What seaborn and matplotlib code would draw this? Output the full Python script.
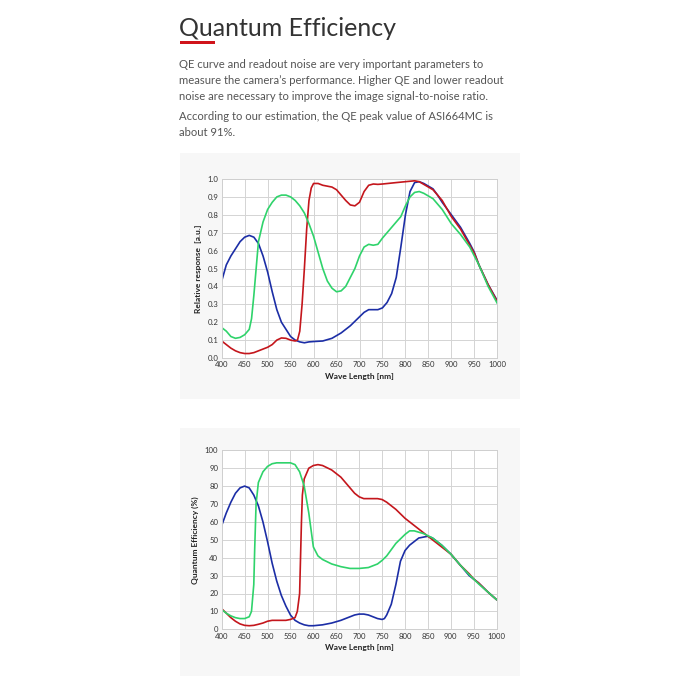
import numpy as np
import pandas as pd
import matplotlib
matplotlib.use("Agg")
import matplotlib.pyplot as plt
import seaborn as sns
from matplotlib.patches import Rectangle

sns.set_style("white")
plt.rcParams['font.family'] = ['Lato', 'DejaVu Sans']

# ---------- data: relative response (top chart) ----------
rel_blue_wl = [400, 410, 420, 430, 440, 450, 460, 470, 480, 490, 500, 510, 520, 530, 540, 550, 560, 570, 580, 590,
               600, 620, 640, 660, 680, 700, 710, 720, 740, 750, 760, 770, 780, 790, 800, 810, 820, 830, 840, 850,
               860, 870, 880, 900, 920, 940, 950, 960, 980, 1000]
rel_blue = [0.43, 0.52, 0.57, 0.61, 0.65, 0.675, 0.685, 0.675, 0.64, 0.57, 0.48, 0.37, 0.27, 0.20, 0.16, 0.12, 0.10, 0.09, 0.085, 0.09,
            0.092, 0.095, 0.11, 0.14, 0.18, 0.23, 0.255, 0.27, 0.27, 0.28, 0.31, 0.36, 0.45, 0.62, 0.80, 0.93, 0.98, 0.985, 0.975, 0.96,
            0.945, 0.91, 0.87, 0.80, 0.73, 0.64, 0.59, 0.52, 0.41, 0.32]

rel_red_wl = [400, 410, 420, 430, 440, 450, 460, 470, 480, 490, 500, 510, 520, 530, 540, 550, 560, 565, 570, 575,
              580, 585, 590, 595, 600, 610, 620, 640, 650, 660, 670, 680, 690, 700, 710, 720, 730, 740, 750, 780,
              800, 820, 830, 840, 860, 880, 900, 920, 940, 950, 960, 980, 1000]
rel_red = [0.095, 0.075, 0.055, 0.04, 0.03, 0.025, 0.025, 0.03, 0.04, 0.05, 0.06, 0.075, 0.10, 0.112, 0.11, 0.10, 0.095, 0.10, 0.15, 0.30,
           0.50, 0.72, 0.88, 0.95, 0.975, 0.975, 0.965, 0.955, 0.94, 0.91, 0.88, 0.855, 0.85, 0.87, 0.93, 0.965, 0.972, 0.97, 0.972, 0.98,
           0.985, 0.99, 0.985, 0.97, 0.94, 0.88, 0.79, 0.72, 0.63, 0.585, 0.52, 0.41, 0.315]

rel_green_wl = [400, 410, 420, 430, 440, 450, 460, 465, 470, 475, 480, 490, 500, 510, 520, 530, 540, 550, 560, 570,
                580, 590, 600, 610, 620, 630, 640, 650, 660, 670, 680, 690, 700, 710, 720, 730, 740, 750, 760, 780,
                790, 800, 810, 820, 830, 840, 860, 880, 900, 920, 940, 960, 980, 1000]
rel_green = [0.17, 0.15, 0.12, 0.11, 0.115, 0.13, 0.16, 0.22, 0.35, 0.50, 0.65, 0.76, 0.83, 0.87, 0.90, 0.91, 0.91, 0.90, 0.88, 0.85,
             0.81, 0.75, 0.68, 0.59, 0.50, 0.43, 0.39, 0.37, 0.375, 0.40, 0.45, 0.50, 0.57, 0.62, 0.635, 0.63, 0.635, 0.67, 0.70, 0.76,
             0.79, 0.85, 0.90, 0.925, 0.93, 0.92, 0.89, 0.83, 0.75, 0.69, 0.62, 0.52, 0.40, 0.305]

# ---------- data: quantum efficiency % (bottom chart) ----------
qe_blue_wl = [400, 410, 420, 430, 440, 450, 460, 470, 480, 490, 500, 510, 520, 530, 540, 550, 560, 570, 580, 590,
              600, 620, 640, 660, 680, 690, 700, 710, 720, 730, 740, 750, 755, 760, 770, 780, 790, 800, 810, 820,
              830, 840, 850, 860, 870, 880, 900, 920, 940, 950, 960, 980, 1000]
qe_blue = [58, 65, 71, 76, 79, 80, 79, 75, 69, 60, 49, 37, 27, 19, 13, 8, 5, 3.5, 2.5, 2,
           2, 2.5, 3.5, 5, 7, 8, 8.5, 8.5, 8, 7, 6, 5.5, 6, 8, 14, 25, 38, 44, 47, 49,
           51, 51.5, 52, 51, 49, 47, 42, 36, 30, 28, 26, 21, 16.5]

qe_red_wl = [400, 410, 420, 430, 440, 450, 460, 470, 480, 490, 500, 510, 520, 540, 550, 560, 565, 570, 572, 574,
             576, 580, 590, 600, 610, 620, 640, 660, 680, 690, 700, 710, 740, 750, 760, 780, 800, 820, 840, 860,
             880, 900, 920, 940, 950, 960, 980, 1000]
qe_red = [11.5, 9, 6.5, 4.5, 3, 2.2, 2, 2.2, 2.8, 3.5, 4.5, 5, 5, 5, 5.5, 6.5, 10, 20, 40, 60,
          75, 84, 90, 91.5, 92, 91.5, 89, 85, 79, 76, 74, 73, 73, 72.5, 71, 67, 62, 58, 54, 50,
          46, 42, 36, 31, 28, 26, 21, 16.5]

qe_green_wl = [400, 410, 420, 430, 440, 450, 460, 465, 470, 472, 475, 480, 490, 500, 510, 520, 540, 550, 560, 570,
               580, 590, 600, 610, 620, 640, 660, 680, 700, 720, 740, 750, 760, 780, 800, 810, 820, 840, 860, 880,
               900, 920, 940, 960, 980, 1000]
qe_green = [11, 9, 7.5, 6.5, 6, 6, 7, 10, 25, 45, 70, 82, 88, 91, 92.5, 93, 93, 93, 92, 88,
            80, 65, 46, 41, 39, 36.5, 35, 34, 34, 34.5, 36.5, 38.5, 41, 48, 53, 55, 55, 53.5, 51, 47,
            42, 36, 30.5, 25.5, 21, 16.5]

x_ticks = list(range(400, 1001, 50))
rel_ticks = [0.0, 0.1, 0.2, 0.3, 0.4, 0.5, 0.6, 0.7, 0.8, 0.9, 1.0]
qe_ticks = list(range(0, 101, 10))

colors = {"B": "#1c2ea6", "R": "#c4161c", "G": "#2fd36b"}


def long_df(parts):
    frames = []
    for name, wl, val in parts:
        frames.append(pd.DataFrame({"wl": wl, "val": val, "ch": name}))
    return pd.concat(frames, ignore_index=True)


rel_df = long_df([("B", rel_blue_wl, rel_blue), ("R", rel_red_wl, rel_red), ("G", rel_green_wl, rel_green)])
qe_df = long_df([("B", qe_blue_wl, qe_blue), ("R", qe_red_wl, qe_red), ("G", qe_green_wl, qe_green)])

fig = plt.figure(figsize=(7, 7), dpi=100)
W = H = 700.0

def fx(px):
    return px / W

def fy(py):
    return 1 - py / H

# panels
for top, bot in [(153, 399), (428, 676)]:
    fig.patches.append(Rectangle((fx(180), fy(bot)), fx(340), (bot - top) / H,
                                 transform=fig.transFigure, facecolor="#f7f7f7",
                                 edgecolor="none", zorder=-10))

# header text
fig.text(fx(179), fy(29), "Quantum Efficiency", fontsize=18.0, color="#333333",
         va="center", ha="left")
fig.patches.append(Rectangle((fx(180), fy(44)), fx(35), 3 / H, transform=fig.transFigure,
                             facecolor="#d0141b", edgecolor="none", zorder=-5))
body = [
    (64, "QE curve and readout noise are very important parameters to"),
    (80, "measure the camera\u2019s performance. Higher QE and lower readout"),
    (96, "noise are necessary to improve the image signal-to-noise ratio."),
    (116, "According to our estimation, the QE peak value of ASI664MC is"),
    (132, "about 91%."),
]
for y, t in body:
    fig.text(fx(179), fy(y), t, fontsize=8.1, color="#555555", va="center", ha="left")


def style_axes(ax, yticks, ylab, yfmt):
    ax.set_facecolor("white")
    ax.set_xlim(400, 1000)
    ax.set_ylim(yticks[0], yticks[-1])
    ax.set_xticks(x_ticks)
    ax.set_yticks(yticks)
    ax.set_yticklabels([yfmt(v) for v in yticks])
    ax.grid(True, color="#d4d4d4", linewidth=0.7)
    ax.set_axisbelow(True)
    for s in ax.spines.values():
        s.set_color("#cfcfcf")
        s.set_linewidth(0.7)
    ax.tick_params(axis="both", labelsize=5.6, colors="#333333", length=0, pad=2.5)
    ax.set_xlabel("Wave Length [nm]", fontsize=6.0, fontweight="bold", color="#222222", labelpad=3)
    ax.set_ylabel(ylab, fontsize=6.0, fontweight="bold", color="#222222", labelpad=4)
    if ax.get_legend() is not None:
        ax.get_legend().remove()


ax1 = fig.add_axes([fx(221.7), fy(358), (497.3 - 221.7) / W, 179 / H])
sns.lineplot(data=rel_df, x="wl", y="val", hue="ch", palette=colors, sort=False,
             estimator=None, linewidth=1.2, ax=ax1, legend=False)
style_axes(ax1, rel_ticks, "Relative response  [a.u.]", lambda v: f"{v:.1f}")

ax2 = fig.add_axes([fx(221.7), fy(629.3), (496.7 - 221.7) / W, 179 / H])
sns.lineplot(data=qe_df, x="wl", y="val", hue="ch", palette=colors, sort=False,
             estimator=None, linewidth=1.2, ax=ax2, legend=False)
style_axes(ax2, qe_ticks, "Quantum Efficiency (%)", lambda v: f"{v:d}")

fig.savefig("out.png", dpi=100, facecolor="white")
